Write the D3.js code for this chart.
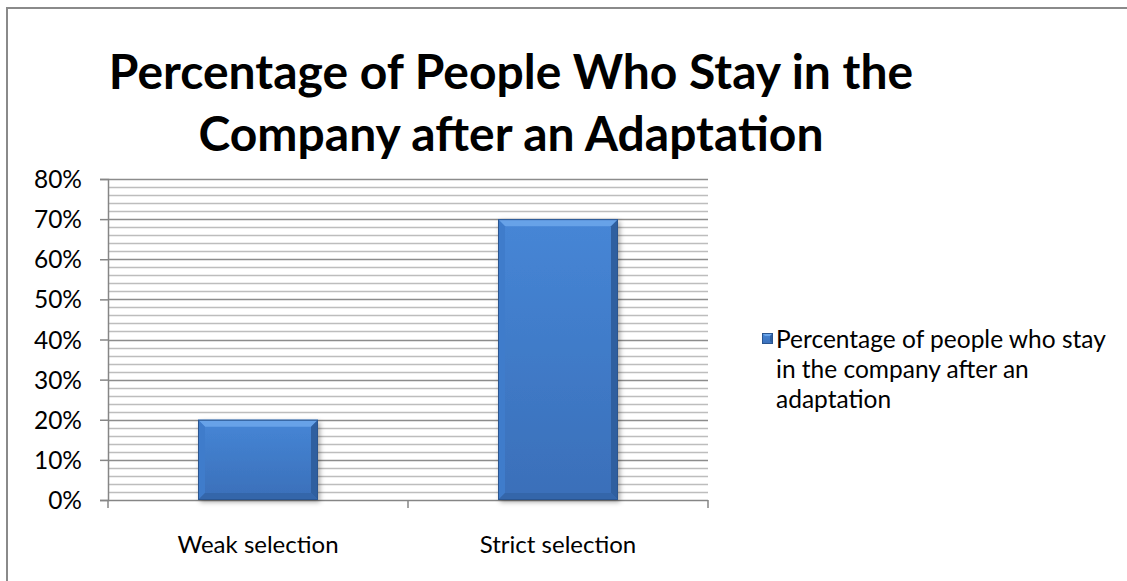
<!DOCTYPE html>
<html>
<head>
<meta charset="utf-8">
<script src="https://cdn.jsdelivr.net/npm/d3@7"></script>
<style>
  html, body { margin: 0; padding: 0; background: #fff; }
  svg { display: block; }
</style>
</head>
<body>
<svg id="chart" width="1127" height="581"></svg>
<script>
// Chart data
const categories = ["Weak selection", "Strict selection"];
const values = [0.20, 0.70];
const yTicks = [0, 0.1, 0.2, 0.3, 0.4, 0.5, 0.6, 0.7, 0.8];
const titleLines = ["Percentage of People Who Stay in the", "Company after an Adaptation"];
const legendLines = ["Percentage of people who stay", "in the company after an", "adaptation"];

const svg = d3.select("#chart");
const font = "Lato, 'Open Sans', 'DejaVu Sans', sans-serif";

// Outer chart frame
svg.append("rect")
  .attr("x", 7).attr("y", 8).attr("width", 1140).attr("height", 600)
  .attr("fill", "#fff").attr("stroke", "#8a8a8a").attr("stroke-width", 2);

const plot = { left: 108, right: 708, top: 179, bottom: 500 };

const x = d3.scaleBand().domain(categories).range([plot.left, plot.right]).padding(0);
const y = d3.scaleLinear().domain([0, 0.8]).range([plot.bottom, plot.top]);

const defs = svg.append("defs");
const grad = defs.append("linearGradient").attr("id", "barFill")
  .attr("x1", 0).attr("y1", 0).attr("x2", 0).attr("y2", 1);
grad.append("stop").attr("offset", 0).attr("stop-color", "#4686d6");
grad.append("stop").attr("offset", 1).attr("stop-color", "#3a6fb9");

const shadow = defs.append("filter").attr("id", "shadow")
  .attr("x", "-20%").attr("y", "-20%").attr("width", "140%").attr("height", "140%");
shadow.append("feDropShadow").attr("dx", 2).attr("dy", 2).attr("stdDeviation", 2.5)
  .attr("flood-color", "#000").attr("flood-opacity", 0.35);

// Minor gridlines every 2%
const minorTicks = d3.range(0, 81, 2).map(v => v / 100).filter(v => Math.round(v * 100) % 10 !== 0);
svg.append("g").selectAll("line").data(minorTicks).join("line")
  .attr("x1", plot.left).attr("x2", plot.right)
  .attr("y1", d => Math.round(y(d)) + 0.5).attr("y2", d => Math.round(y(d)) + 0.5)
  .attr("stroke", "#bdbdbd").attr("stroke-width", 1.5);

// Major gridlines every 10%
svg.append("g").selectAll("line").data(yTicks.filter(d => d > 0)).join("line")
  .attr("x1", plot.left).attr("x2", plot.right)
  .attr("y1", d => Math.round(y(d)) + 0.5).attr("y2", d => Math.round(y(d)) + 0.5)
  .attr("stroke", "#8c8c8c").attr("stroke-width", 1.5);

// Y axis
const yAxis = d3.axisLeft(y).tickValues(yTicks).tickFormat(d3.format(".0%")).tickSize(8).tickPadding(18);
const gy = svg.append("g").attr("transform", `translate(${plot.left},0)`).call(yAxis);
gy.select(".domain").attr("stroke", "#868686").attr("stroke-width", 1.5);
gy.selectAll(".tick line").attr("stroke", "#868686").attr("stroke-width", 1.5);
gy.selectAll(".tick text").attr("font-family", font).attr("font-size", 24.5).attr("fill", "#000")
  .attr("dy", "0.35em");

// X axis with category boundary ticks
const gx = svg.append("g").attr("transform", `translate(0,${plot.bottom})`);
gx.append("line").attr("x1", plot.left).attr("x2", plot.right).attr("y1", 0.5).attr("y2", 0.5)
  .attr("stroke", "#868686").attr("stroke-width", 1.5);
const bounds = categories.map(c => x(c)).concat([x(categories[categories.length - 1]) + x.bandwidth()]);
gx.selectAll("line.bt").data(bounds).join("line").attr("class", "bt")
  .attr("x1", d => d).attr("x2", d => d).attr("y1", 0).attr("y2", 8)
  .attr("stroke", "#868686").attr("stroke-width", 1.5);
gx.selectAll("text").data(categories).join("text")
  .attr("x", d => x(d) + x.bandwidth() / 2).attr("y", 53)
  .attr("text-anchor", "middle").attr("font-family", font).attr("font-size", 24).attr("fill", "#000")
  .text(d => d);

// Beveled bars
const barW = x.bandwidth() * 0.4;
const bev = 7;
const bars = svg.append("g").selectAll("g").data(categories.map((c, i) => ({ c, v: values[i] }))).join("g");
bars.each(function(d) {
  const g = d3.select(this);
  const x0 = x(d.c) + (x.bandwidth() - barW) / 2, x1 = x0 + barW;
  const y0 = y(d.v), y1 = y(0);
  g.append("rect").attr("x", x0).attr("y", y0).attr("width", barW).attr("height", y1 - y0)
    .attr("fill", "url(#barFill)").attr("filter", "url(#shadow)");
  const poly = pts => g.append("polygon").attr("points", pts.map(p => p.join(",")).join(" "));
  // top facet (light)
  poly([[x0, y0], [x1, y0], [x1 - bev, y0 + bev], [x0 + bev, y0 + bev]]).attr("fill", "#6aa5ea").attr("opacity", 0.9);
  // left facet
  poly([[x0, y0], [x0 + bev, y0 + bev], [x0 + bev, y1 - bev], [x0, y1]]).attr("fill", "#3f7ccb");
  // right facet (dark)
  poly([[x1, y0], [x1, y1], [x1 - bev, y1 - bev], [x1 - bev, y0 + bev]]).attr("fill", "#2f5f9f");
  // bottom facet
  poly([[x0, y1], [x0 + bev, y1 - bev], [x1 - bev, y1 - bev], [x1, y1]]).attr("fill", "#3466aa");
  g.append("rect").attr("x", x0 + 0.5).attr("y", y0 + 0.5).attr("width", barW - 1).attr("height", y1 - y0 - 1)
    .attr("fill", "none").attr("stroke", "#2a5590").attr("stroke-width", 1);
});

// Title
svg.append("g").selectAll("text").data(titleLines).join("text")
  .attr("x", 511).attr("y", (d, i) => 89 + i * 62)
  .attr("text-anchor", "middle").attr("font-family", font).attr("font-weight", "bold")
  .attr("font-size", 48).attr("fill", "#000").text(d => d);

// Legend
const lg = svg.append("g");
const mk = 762, my = 333, ms = 11;
lg.append("rect").attr("x", mk).attr("y", my).attr("width", ms).attr("height", ms).attr("fill", "url(#barFill)");
lg.append("polygon").attr("points", `${mk},${my} ${mk + ms},${my} ${mk + ms - 3},${my + 3} ${mk + 3},${my + 3}`).attr("fill", "#6aa5ea");
lg.append("polygon").attr("points", `${mk + ms},${my} ${mk + ms},${my + ms} ${mk + ms - 3},${my + ms - 3} ${mk + ms - 3},${my + 3}`).attr("fill", "#2f5f9f");
lg.append("rect").attr("x", mk + 0.5).attr("y", my + 0.5).attr("width", ms - 1).attr("height", ms - 1)
  .attr("fill", "none").attr("stroke", "#2a5590").attr("stroke-width", 1);
lg.selectAll("text").data(legendLines).join("text")
  .attr("x", 776).attr("y", (d, i) => 348 + i * 30)
  .attr("font-family", font).attr("font-size", 24.5).attr("fill", "#000").text(d => d);
</script>
</body>
</html>
